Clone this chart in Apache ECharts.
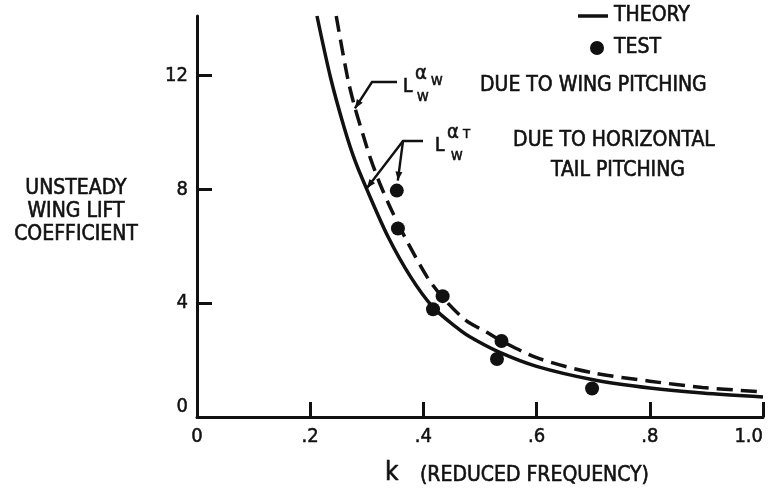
<!DOCTYPE html>
<html>
<head>
<meta charset="utf-8">
<script src="https://cdn.jsdelivr.net/npm/echarts@6/dist/echarts.min.js"></script>
<style>
  html, body { margin: 0; padding: 0; background: #fff; }
  #chart { width: 775px; height: 489px; }
</style>
</head>
<body>
<div id="chart"></div>
<script>
var FONT = "'DejaVu Sans Condensed', 'Liberation Sans Narrow', 'DejaVu Sans', sans-serif";
var INK = '#111';

// theory, due to horizontal tail pitching (solid)
var tailK  = [0.212, 0.236, 0.260, 0.279, 0.301, 0.338, 0.378, 0.417, 0.458, 0.482, 0.535, 0.600, 0.700, 0.800, 0.893, 1.000];
var tailCl = [14.1,  11.93, 10.18, 9.02,  7.96,  6.32,  4.91,  3.86,  3.16,  2.82,  2.27,  1.78,  1.31,  1.02,  0.84,  0.70];

// theory, due to wing pitching (dashed)
var wingK  = [0.246, 0.266, 0.279, 0.295, 0.306, 0.323, 0.344, 0.373, 0.407, 0.436, 0.475, 0.512, 0.538, 0.605, 0.700, 0.800, 0.893, 1.000];
var wingCl = [14.1,  11.93, 10.88, 9.82,  9.12,  8.21,  7.26,  6.11,  4.91,  4.16,  3.40,  2.98,  2.67,  2.05,  1.55,  1.26,  1.04,  0.88];

// test points
var testK  = [0.353, 0.355, 0.434, 0.417, 0.538, 0.530, 0.698];
var testCl = [7.96,  6.63,  4.25,  3.79,  2.67,  2.04,  1.00];

var xTickVals  = [0.2, 0.4, 0.6, 0.8, 1.0];
var xLabelVals = [0, 0.2, 0.4, 0.6, 0.8, 1.0];
var yTickVals  = [4, 8, 12];
var yLabelVals = [0, 4, 8, 12];

function pairs(xs, ys) {
  return xs.map(function (x, i) { return [x, ys[i]]; });
}

var chart = echarts.init(document.getElementById('chart'));

var option = {
  backgroundColor: '#fff',
  animation: false,
  grid: { left: 197, right: 12, top: 16, bottom: 72, outerBoundsMode: 'none' },
  xAxis: {
    type: 'value',
    min: 0,
    max: 1.0,
    interval: 0.2,
    axisLine: { show: true, onZero: false, lineStyle: { color: INK, width: 3 } },
    axisTick: { show: true, inside: true, length: 15, lineStyle: { color: INK, width: 3 }, customValues: xTickVals },
    axisLabel: {
      customValues: xLabelVals,
      margin: 10,
      color: INK,
      fontSize: 20,
      fontFamily: FONT,
      textBorderColor: INK,
      textBorderWidth: 0.5,
      alignMaxLabel: 'right',
      formatter: function (v) {
        if (v === 0) return '0';
        if (v >= 1) return '1.0';
        return '.' + Math.round(v * 10);
      }
    },
    splitLine: { show: false }
  },
  yAxis: {
    type: 'value',
    min: 0,
    max: 14.1,
    interval: 4,
    axisLine: { show: true, onZero: false, lineStyle: { color: INK, width: 3 } },
    axisTick: { show: true, inside: true, length: 15, lineStyle: { color: INK, width: 3 }, customValues: yTickVals },
    axisLabel: {
      customValues: yLabelVals,
      margin: 9,
      color: INK,
      fontSize: 20,
      fontFamily: FONT,
      textBorderColor: INK,
      textBorderWidth: 0.5,
      formatter: function (v) { return v === 0 ? '{z|0}' : String(v); },
      rich: { z: { fontSize: 20, fontFamily: FONT, color: INK, textBorderColor: INK, textBorderWidth: 0.5, padding: [0, 0, 20, 0] } }
    },
    splitLine: { show: false }
  },
  series: [
    {
      name: 'THEORY',
      type: 'line',
      data: pairs(tailK, tailCl),
      smooth: 0.3,
      showSymbol: false,
      symbol: 'none',
      lineStyle: { color: INK, width: 3.5 },
      z: 3
    },
    {
      name: 'THEORY (WING)',
      type: 'line',
      data: pairs(wingK, wingCl),
      smooth: 0.3,
      showSymbol: false,
      symbol: 'none',
      lineStyle: { color: INK, width: 3.5, type: [16, 8] },
      z: 3
    },
    {
      name: 'TEST',
      type: 'scatter',
      data: pairs(testK, testCl),
      symbol: 'circle',
      symbolSize: 14,
      itemStyle: { color: INK, opacity: 1 },
      z: 4
    }
  ]
};
chart.setOption(option);

function px(k, v) { return chart.convertToPixel({ gridIndex: 0 }, [k, v]); }

function label(txt, x, y, size, align) {
  return {
    type: 'text', x: x, y: y, silent: true,
    style: {
      text: txt, fill: INK, fontSize: size, fontFamily: FONT,
      textAlign: align || 'left', textVerticalAlign: 'middle',
      align: align || 'left', verticalAlign: 'middle', lineHeight: 23,
      stroke: INK, lineWidth: 0.6
    }
  };
}

function seg(points) {
  return { type: 'polyline', silent: true, shape: { points: points }, style: { stroke: INK, lineWidth: 2.4, fill: null } };
}

function arrowHead(from, to) {
  var dx = to[0] - from[0], dy = to[1] - from[1];
  var d = Math.sqrt(dx * dx + dy * dy);
  var ux = dx / d, uy = dy / d, len = 9, half = 3.5;
  var bx = to[0] - ux * len, by = to[1] - uy * len;
  return {
    type: 'polygon', silent: true,
    shape: { points: [to, [bx - uy * half, by + ux * half], [bx + uy * half, by - ux * half]] },
    style: { fill: INK }
  };
}

// leader tips, placed in data space
var tipWing = px(0.279, 10.85);
var tipTail = px(0.300, 8.04);
var dotTop = px(0.353, 7.96);
var tipDot = [dotTop[0] + 1, dotTop[1] - 10];

var forkW = [372, 82];
var forkT = [403, 141];

var g = [
  // y axis title
  label('UNSTEADY\nWING LIFT\nCOEFFICIENT', 76, 212, 21, 'center'),
  // x axis title
  label('k', 385, 473, 26),
  label('(REDUCED FREQUENCY)', 420, 476, 21),
  // legend
  { type: 'line', silent: true, shape: { x1: 578, y1: 16, x2: 608, y2: 16 }, style: { stroke: INK, lineWidth: 3.5 } },
  label('THEORY', 614, 16, 21),
  { type: 'circle', silent: true, shape: { cx: 597, cy: 48, r: 7 }, style: { fill: INK } },
  label('TEST', 614, 48, 21),
  // curve descriptions
  label('DUE TO WING PITCHING', 480, 86, 21),
  label('DUE TO HORIZONTAL', 614, 141, 21, 'center'),
  label('TAIL PITCHING', 618, 171, 21, 'center'),
  // L_W^alpha_W
  label('L', 403, 87, 19),
  label('\u03b1', 415, 74, 20),
  label('W', 431, 82, 13),
  label('W', 417, 98, 13),
  // L_W^alpha_T
  label('L', 435, 146, 19),
  label('\u03b1', 447, 133, 20),
  label('T', 463, 135, 13),
  label('W', 451, 157, 13),
  // leaders
  seg([[397, 82], forkW, tipWing]),
  arrowHead(forkW, tipWing),
  seg([[423, 141], forkT, tipTail]),
  arrowHead(forkT, tipTail),
  seg([forkT, tipDot]),
  arrowHead(forkT, tipDot)
];

chart.setOption({ graphic: { elements: g } });
</script>
</body>
</html>
